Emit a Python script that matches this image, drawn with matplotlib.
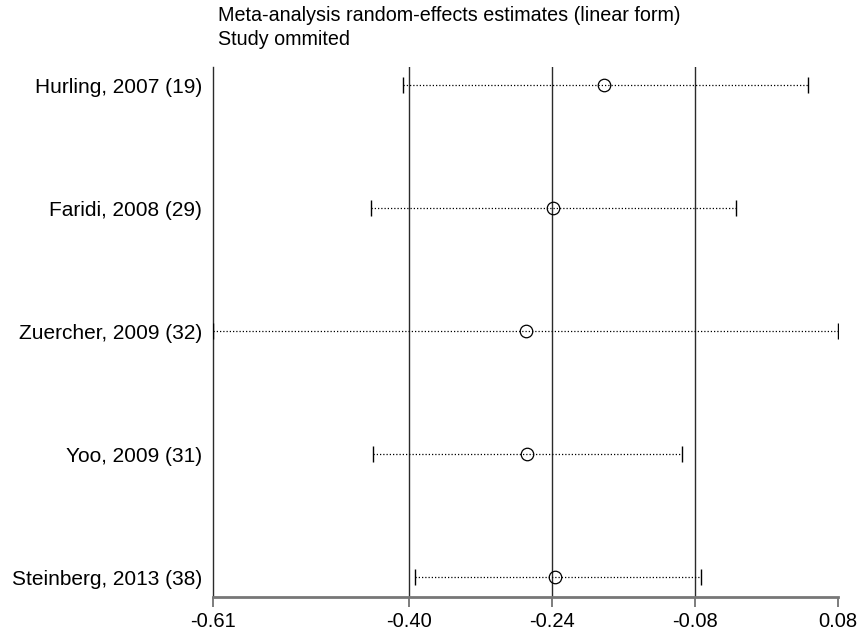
import matplotlib
matplotlib.use("Agg")
import matplotlib.pyplot as plt

plt.rcParams['font.family'] = ['Liberation Sans', 'DejaVu Sans']

studies = ["Hurling, 2007 (19)", "Faridi, 2008 (29)", "Zuercher, 2009 (32)",
           "Yoo, 2009 (31)", "Steinberg, 2013 (38)"]
estimate = [-0.182, -0.239, -0.269, -0.268, -0.236]
lower = [-0.407, -0.442, -0.619, -0.440, -0.393]
upper = [0.046, -0.034, 0.080, -0.094, -0.073]

ref_lines = [-0.40, -0.24, -0.08]
xmin, xmax = -0.619, 0.08
tick_pos = [xmin, -0.40, -0.24, -0.08, xmax]
tick_labels = ["-0.61", "-0.40", "-0.24", "-0.08", "0.08"]

fig = plt.figure(figsize=(8.65, 6.33), dpi=100)
ax = fig.add_axes([213/865, 1-597/633, (838-213)/865, (597-67)/633])

ys = list(range(1, len(studies)+1))
for r in ref_lines:
    ax.axvline(r, color='#2a2a2a', lw=1.0, zorder=1)

for y, lo, hi, est in zip(ys, lower, upper, estimate):
    ax.plot([lo, hi], [y, y], color='black', lw=0.9, ls=(0, (1, 1.6)), zorder=2)
    ax.plot([lo, hi], [y, y], ls='none', marker='|', markersize=11, color='black',
            markeredgewidth=1.0, zorder=3)
ax.plot(estimate, ys, ls='none', marker='o', markersize=9, markerfacecolor='none',
        markeredgecolor='black', markeredgewidth=0.9, zorder=4)

ax.set_xlim(xmin, xmax)
ax.set_ylim(5 + 20/123, 1 - 18/123)
ax.set_yticks(ys)
ax.set_yticklabels(studies, fontsize=15)
ax.tick_params(axis='y', length=0, pad=8)
ax.set_xticks(tick_pos)
ax.set_xticklabels(tick_labels, fontsize=14.5)
ax.tick_params(axis='x', length=7, width=1.2, color='#666666', pad=4)

for s in ['top', 'right']:
    ax.spines[s].set_visible(False)
ax.spines['left'].set_color('#2a2a2a')
ax.spines['left'].set_linewidth(1.0)
ax.spines['bottom'].set_color('#777777')
ax.spines['bottom'].set_linewidth(2)

fig.text(218/865, 1-6/633, "Meta-analysis random-effects estimates (linear form)\nStudy ommited",
         fontsize=14.2, va='top', ha='left', linespacing=1.35)

fig.savefig("out.png", dpi=100)
